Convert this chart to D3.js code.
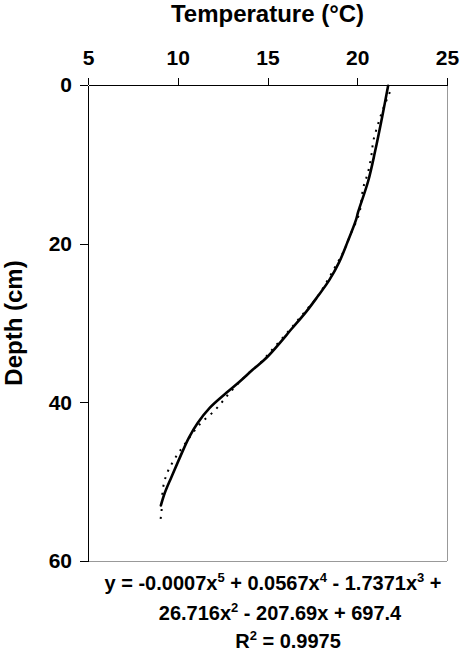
<!DOCTYPE html>
<meta charset="utf-8">
<style>
body { margin: 0; background: #fff; }
svg { font-family: "Liberation Sans", Arial, sans-serif; font-weight: bold; }
.axis text { font: bold 21px "Liberation Sans", Arial, sans-serif; fill: #000; }
.axis path, .axis line { stroke: #000; shape-rendering: crispEdges; }
.obs { fill: none; stroke: #000; stroke-width: 2.6px; stroke-linejoin: round; stroke-linecap: round; }
.trend { fill: none; stroke: #000; stroke-width: 2px; stroke-dasharray: 2,6; }
</style>
<body>
<div id="chart"></div>
<script src="https://cdn.jsdelivr.net/npm/d3@7"></script>
<script>
// measured profile (solid line)
var obsDepth = [0.1, 4.0, 8.3, 12.1, 16.0, 17.0, 19.9, 22.3, 24.6, 26.7, 28.6, 30.6, 34.25, 35.9, 37.4, 38.8, 40.7, 42.6, 44.5, 47.0, 49.4, 51.4, 53.0];
var obsTemp  = [21.72, 21.39, 21.0, 20.61, 20.05, 19.93, 19.44, 19.0, 18.44, 17.78, 17.15, 16.4, 15.0, 14.17, 13.44, 12.71, 11.78, 11.11, 10.61, 10.11, 9.65, 9.28, 9.06];

// polynomial trendline (dotted)
var trendDepth = [0.9, 3.0, 5.0, 7.0, 9.0, 11.0, 13.0, 16.2, 18.7, 20.8, 23.0, 25.8, 27.0, 28.9, 30.9, 32.9, 34.9, 36.8, 38.8, 40.9, 42.9, 45.0, 46.9, 48.9, 50.8, 53.9, 54.9];
var trendTemp  = [21.82, 21.44, 21.15, 20.9, 20.78, 20.6, 20.33, 20.11, 19.65, 19.28, 18.75, 18.04, 17.67, 16.96, 16.22, 15.44, 14.65, 13.72, 12.89, 12.11, 11.17, 10.48, 9.89, 9.41, 9.18, 9.09, 9.03];

var xTicks = [5, 10, 15, 20, 25];
var yTicks = [0, 20, 40, 60];

var eqLines = [
    [["y = -0.0007x"], ["5", 1], [" + 0.0567x"], ["4", 1], [" - 1.7371x"], ["3", 1], [" +"]],
    [["26.716x"], ["2", 1], [" - 207.69x + 697.4"]],
    [["R"], ["2", 1], [" = 0.9975"]]
];

var W = 462, H = 664,
    margin = { top: 85, left: 88 },
    width = 359, height = 476;

var svg = d3.select("#chart").append("svg")
    .attr("width", W).attr("height", H);

var g = svg.append("g")
    .attr("transform", "translate(" + margin.left + "," + margin.top + ")");

var x = d3.scaleLinear().domain([5, 25]).range([0, width]);
var y = d3.scaleLinear().domain([0, 60]).range([0, height]);

// grey right / bottom border
g.append("line").attr("x1", width).attr("x2", width).attr("y1", 0).attr("y2", height)
    .attr("stroke", "#999").style("shape-rendering", "crispEdges");
g.append("line").attr("x1", 0).attr("x2", width).attr("y1", height).attr("y2", height)
    .attr("stroke", "#999").style("shape-rendering", "crispEdges");

g.append("g").attr("class", "axis")
    .call(d3.axisTop(x).tickValues(xTicks).tickSize(7).tickPadding(13).tickSizeOuter(0));

g.append("g").attr("class", "axis")
    .call(d3.axisLeft(y).tickValues(yTicks).tickSize(8).tickPadding(8).tickSizeOuter(0));

var line = d3.line()
    .x(function(d) { return x(d[1]); })
    .y(function(d) { return y(d[0]); })
    .curve(d3.curveCatmullRom);

g.append("path").attr("class", "trend")
    .attr("d", line(d3.zip(trendDepth, trendTemp)));

g.append("path").attr("class", "obs")
    .attr("d", line(d3.zip(obsDepth, obsTemp)));

svg.append("text")
    .attr("x", margin.left + width / 2).attr("y", 22)
    .attr("text-anchor", "middle")
    .style("font-size", "24px")
    .text("Temperature (°C)");

svg.append("text")
    .attr("transform", "rotate(-90)")
    .attr("x", -(margin.top + height / 2)).attr("y", 22)
    .attr("text-anchor", "middle")
    .style("font-size", "24px")
    .text("Depth (cm)");

// trendline equation
var eqY = [590, 620, 648],
    eqX = [273, 280, 288];
eqLines.forEach(function(parts, i) {
    var t = svg.append("text")
        .attr("x", eqX[i]).attr("y", eqY[i])
        .attr("text-anchor", "middle")
        .style("font-size", "20px");
    parts.forEach(function(p, j) {
        if (p[1]) {
            t.append("tspan").attr("dy", -8).style("font-size", "13px").text(p[0]);
        } else {
            var s = t.append("tspan").text(p[0]);
            if (j > 0) s.attr("dy", 8);
        }
    });
});
</script>
</body>
